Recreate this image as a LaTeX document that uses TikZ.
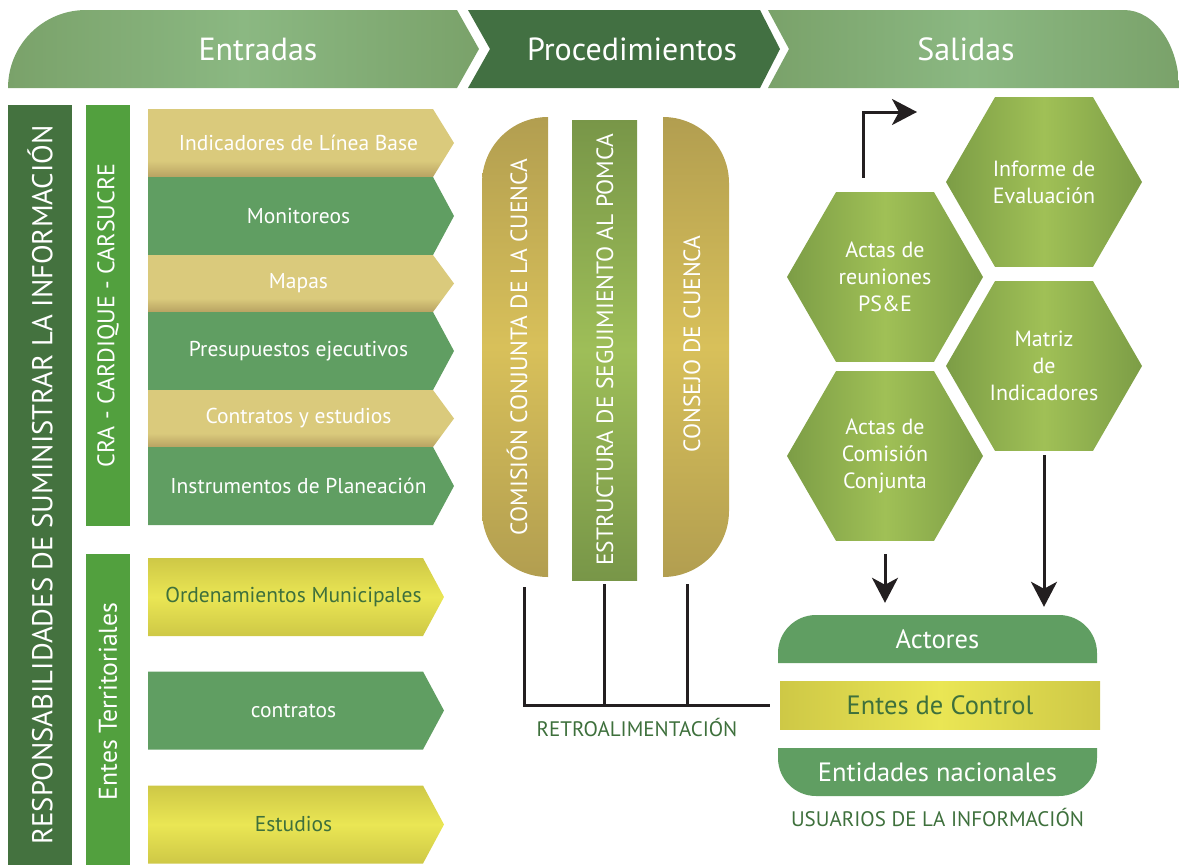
\documentclass[tikz,border=0pt]{standalone}
\usepackage{fontspec}
\setmainfont{PT Sans}
\usepackage{xcolor}
\definecolor{HdrLight}{RGB}{139,184,130}
\definecolor{HdrEdge}{RGB}{122,162,106}
\definecolor{ProcDark}{RGB}{66,112,66}
\definecolor{BarDark}{RGB}{68,114,63}
\definecolor{BarGreen}{RGB}{82,160,62}
\definecolor{GoldLight}{RGB}{218,202,124}
\definecolor{GoldDark}{RGB}{184,162,98}
\definecolor{BoxGreen}{RGB}{96,158,98}
\definecolor{YelLight}{RGB}{234,230,84}
\definecolor{YelEdge}{RGB}{206,200,70}
\definecolor{PillGold}{RGB}{216,192,90}
\definecolor{PillGoldDark}{RGB}{178,158,80}
\definecolor{PillGreen}{RGB}{158,190,88}
\definecolor{PillGreenDark}{RGB}{120,150,72}
\definecolor{HexLight}{RGB}{160,192,86}
\definecolor{HexEdge}{RGB}{124,157,70}
\definecolor{TextGreen}{RGB}{62,112,60}
\definecolor{LineBlack}{RGB}{35,31,32}
\usetikzlibrary{
  shapes.geometric, shapes.symbols,
  arrows.meta, positioning, calc
}
% gold band: light on top, darker strip at the bottom
\pgfdeclareverticalshading{goldband}{100bp}{%
  color(0bp)=(GoldDark); color(25bp)=(GoldDark);
  color(37bp)=(GoldLight); color(100bp)=(GoldLight)}
\tikzset{
  % Header titles
  hdr/.style={text=white, font=\fontsize{32}{36}\selectfont},
  hdr shade/.style={left color=HdrEdge, right color=HdrEdge, middle color=HdrLight},
  % Vertical side bars
  sidebar/.style={
    rectangle, rotate=90, inner sep=0pt,
    text=white, font=\fontsize{26}{30}\selectfont
  },
  % Input arrows
  inarr/.style={
    signal, signal to=east, signal from=nowhere,
    inner sep=0pt, outer sep=0pt,
    minimum width=306pt,
    text=white, font=\fontsize{21.5}{25}\selectfont,
    execute at begin node=\hspace*{16pt}
  },
  inarr gold/.style={inarr, shading=goldband},
  inarr green/.style={inarr, fill=BoxGreen},
  inarr yellow/.style={inarr, top color=YelEdge, bottom color=YelEdge,
    middle color=YelLight, text=TextGreen},
  % Procedure pills
  ptxt/.style={rotate=90, text=white, font=\fontsize{23.5}{27}\selectfont},
  gold pill/.style={top color=PillGoldDark, bottom color=PillGoldDark, middle color=PillGold},
  % Output hexagons
  hexa/.style={
    regular polygon, regular polygon sides=6,
    minimum size=196pt, inner sep=0pt,
    left color=HexEdge, right color=HexEdge, middle color=HexLight,
    align=center, text=white,
    font=\fontsize{22}{27}\selectfont
  },
  % Users boxes
  ubox/.style={minimum width=319pt, minimum height=48pt, inner sep=0pt,
    text=white, font=\fontsize{26.5}{30}\selectfont},
  % Lines and arrows
  blk/.style={line width=3pt, LineBlack},
  blkarr/.style={blk, -{Stealth[length=25pt, width=26pt, inset=7pt]}},
  % Plain labels
  lbl/.style={text=TextGreen, font=\fontsize{21}{25}\selectfont},
}

\begin{document}
\begin{tikzpicture}[x=1pt, y=-1pt]
  \useasboundingbox (0,0) rectangle (1179,865);

  %% Header band
  \shade[hdr shade] (8,88) arc[start angle=180, end angle=270, radius=78]
    -- (457,10) -- (479,49) -- (457,88) -- cycle;
  \fill[ProcDark] (468,10) -- (760,10) -- (780,49) -- (760,88)
    -- (468,88) -- (490,49) -- cycle;
  \shade[hdr shade] (768,10) -- (1124,10)
    arc[start angle=270, end angle=360, x radius=55, y radius=78]
    -- (768,88) -- (789,49) -- cycle;
  \node[hdr] (entradas) at (258,49) {Entradas};
  \node[hdr] (proced)   at (632,49) {Procedimientos};
  \node[hdr] (salidas)  at (966,49) {Salidas};

  %% Side bars
  \node[sidebar, fill=BarDark, minimum width=760pt, minimum height=64pt,
        font=\fontsize{28.7}{32}\selectfont]
    (resp) at (40,485) {RESPONSABILIDADES DE SUMINISTRAR LA INFORMACIÓN};
  \node[sidebar, fill=BarGreen, minimum width=421pt, minimum height=44pt,
        font=\fontsize{24}{28}\selectfont]
    (cra) at (108,315.5) {CRA - CARDIQUE - CARSUCRE};
  \node[sidebar, fill=BarGreen, minimum width=311pt, minimum height=44pt,
        font=\fontsize{25.7}{30}\selectfont]
    (entes) at (108,709.5) {\hspace*{16pt}Entes Territoriales};

  %% Inputs
  \node[inarr gold, signal pointer angle=116.6, minimum height=68pt]
    (lineabase) at (290.5,143) {Indicadores de Línea Base};
  \node[inarr green, signal pointer angle=123.4, minimum height=78pt]
    (monitoreo) at (290.5,216) {Monitoreos};
  \node[inarr gold, signal pointer angle=107.2, minimum height=57pt]
    (mapas) at (290.5,283.5) {Mapas};
  \node[inarr green, signal pointer angle=123.4, minimum height=78pt]
    (presup) at (290.5,351) {Presupuestos ejecutivos};
  \node[inarr gold, signal pointer angle=107.2, minimum height=57pt]
    (contest) at (290.5,418.5) {Contratos y estudios};
  \node[inarr green, signal pointer angle=123.4, minimum height=78pt]
    (instrum) at (290.5,486) {Instrumentos de Planeación};

  \node[inarr yellow, signal pointer angle=123.4, minimum height=78pt, minimum width=296pt]
    (ordena) at (285.5,597) {Ordenamientos Municipales};
  \node[inarr green, signal pointer angle=123.4, minimum height=78pt, minimum width=296pt,
        execute at begin node={}]
    (contratos) at (285.5,710.5) {contratos};
  \node[inarr yellow, signal pointer angle=123.4, minimum height=78pt, minimum width=296pt]
    (estudios) at (285.5,824.5) {Estudios};

  %% Procedures
  \shade[gold pill] (548,117) arc[start angle=270, end angle=180, radius=66]
    -- (482,511) arc[start angle=180, end angle=90, radius=66] -- cycle;
  \shade[top color=PillGreenDark, bottom color=PillGreenDark, middle color=PillGreen]
    (572,120) rectangle (637,580);
  \shade[gold pill] (663,117) -- (663,577) arc[start angle=90, end angle=0, radius=66]
    -- (729,183) arc[start angle=0, end angle=-90, radius=66] -- cycle;
  \node[ptxt] (comision)   at (517,347) {COMISIÓN CONJUNTA DE LA CUENCA};
  \node[ptxt] (estructura) at (605,350) {ESTRUCTURA DE SEGUIMIENTO AL POMCA};
  \node[ptxt] (consejo)    at (692,344) {CONSEJO DE CUENCA};

  %% Outputs
  \node[hexa] (informe) at (1044,182) {Informe de\\Evaluación};
  \node[hexa] (actasPS) at (885,277)  {Actas de\\reuniones\\PS\&E};
  \node[hexa] (matriz)  at (1044,366) {Matriz\\de\\Indicadores};
  \node[hexa] (actasCC) at (885,456)  {Actas de\\Comisión\\Conjunta};

  %% Users of the information
  \fill[BoxGreen] (778,663) -- (778,653) arc[start angle=180, end angle=270, radius=38]
    -- (1059,615) arc[start angle=270, end angle=360, radius=38] -- (1097,663) -- cycle;
  \fill[BoxGreen] (778,748) -- (1097,748) -- (1097,758)
    arc[start angle=0, end angle=90, radius=38]
    -- (816,796) arc[start angle=90, end angle=180, radius=38] -- cycle;
  \node[ubox] (actores) at (937.5,639) {Actores};
  \node[ubox, minimum width=320pt, left color=YelEdge, right color=YelEdge,
        middle color=YelLight, text=TextGreen]
    (control) at (940,705) {Entes de Control};
  \node[ubox] (entidades) at (937.5,772) {Entidades nacionales};
  \node[lbl, below=8pt of entidades] (usuarios) {USUARIOS DE LA INFORMACIÓN};

  %% Feedback lines
  \coordinate (fbA) at (524,587);
  \coordinate (fbB) at (604,584);
  \coordinate (fbC) at (687,584);
  \coordinate (salida) at (917,112);
  \draw[blk] (fbA) |- ([xshift=-10pt]control.west);
  \draw[blk] (fbB) -- (fbB |- control.west);
  \draw[blk] (fbC) -- (fbC |- control.west);
  \node[lbl] (retro) at (637,727) {RETROALIMENTACIÓN};

  %% Arrows
  \draw[blkarr] ([xshift=-22pt, yshift=14pt]actasPS.north) |- (salida);
  \draw[blkarr] ([yshift=-13pt]actasCC.south) -- ([yshift=12pt]actasCC.south |- actores.north);
  \draw[blkarr] ([yshift=-4pt]matriz.south) -- ([yshift=8pt]matriz.south |- actores.north);

\end{tikzpicture}
\end{document}
